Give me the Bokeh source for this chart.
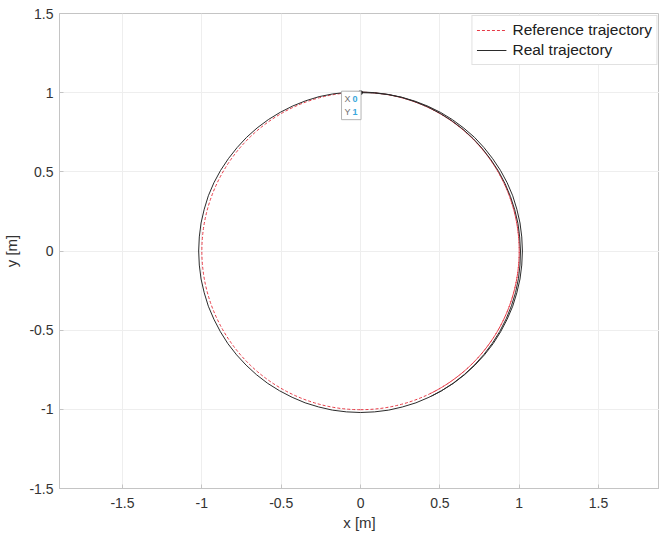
import math
from bokeh.plotting import figure
from bokeh.models import Range1d, Label, Legend, LegendItem, FixedTicker
from bokeh.embed import file_html
from bokeh.resources import INLINE

# Reference trajectory: unit circle around the origin, traced from 90 deg clockwise
# one full lap plus an extra part that ends near -64 deg (drawn as arcs)
ref_center_x = [0.0, 0.0, 0.0]
ref_center_y = [0.0, 0.0, 0.0]
ref_radius = [1.0, 1.0, 1.0]
ref_start_deg = [90.0, -90.0, -64.0]
ref_end_deg = [270.0, 90.0, 90.0]

# Real trajectory (measured)
real_x = [0.0, 0.087, 0.174, 0.260, 0.344, 0.426, 0.505, 0.580, 0.651, 0.718,
          0.778, 0.833, 0.882, 0.924, 0.959, 0.985, 1.005, 1.016, 1.020,
          1.016, 1.005, 0.985, 0.959, 0.924, 0.883, 0.836, 0.781, 0.721,
          0.656, 0.585, 0.510, 0.431, 0.349, 0.264, 0.177, 0.089, 0.0,
          -0.089, -0.177, -0.264, -0.349, -0.431, -0.510, -0.585, -0.656, -0.721,
          -0.781, -0.836, -0.883, -0.924, -0.959, -0.985, -1.005, -1.016, -1.020,
          -1.016, -1.005, -0.985, -0.959, -0.924, -0.882, -0.833, -0.778, -0.718,
          -0.652, -0.581, -0.506, -0.427, -0.345, -0.261, -0.175, -0.088, 0.0,
          0.088, 0.174, 0.260, 0.343, 0.424, 0.502, 0.576, 0.645, 0.710,
          0.769, 0.822, 0.870, 0.911, 0.945, 0.972, 0.992, 1.003, 1.008,
          1.005, 0.995, 0.977, 0.951, 0.918, 0.878, 0.831, 0.778, 0.719,
          0.654, 0.584, 0.510, 0.447]
real_y = [1.000, 0.998, 0.988, 0.971, 0.946, 0.914, 0.875, 0.829, 0.776, 0.718,
          0.653, 0.583, 0.509, 0.431, 0.349, 0.264, 0.177, 0.089, 0.0,
          -0.089, -0.177, -0.264, -0.349, -0.431, -0.510, -0.585, -0.656, -0.721,
          -0.781, -0.836, -0.883, -0.924, -0.959, -0.985, -1.005, -1.016, -1.020,
          -1.016, -1.005, -0.985, -0.959, -0.924, -0.883, -0.836, -0.781, -0.721,
          -0.656, -0.585, -0.510, -0.431, -0.349, -0.264, -0.177, -0.089, 0.0,
          0.089, 0.177, 0.264, 0.349, 0.431, 0.509, 0.583, 0.653, 0.718,
          0.777, 0.830, 0.876, 0.916, 0.949, 0.975, 0.992, 1.002, 1.005,
          1.000, 0.989, 0.970, 0.943, 0.910, 0.869, 0.822, 0.769, 0.710,
          0.645, 0.576, 0.503, 0.425, 0.344, 0.260, 0.175, 0.088, 0.0,
          -0.088, -0.175, -0.262, -0.346, -0.428, -0.507, -0.582, -0.653, -0.719,
          -0.780, -0.835, -0.883, -0.917]

tip_x = [0.0]
tip_y = [1.0]
tip_text_labels = "X\nY"
tip_text_values = "0\n1"

x_ticks = [-1.5, -1, -0.5, 0, 0.5, 1, 1.5]
y_ticks = [-1.5, -1, -0.5, 0, 0.5, 1, 1.5]
x_tick_labels = {-1.5: "-1.5", -1: "-1", -0.5: "-0.5", 0: "0", 0.5: "0.5", 1: "1", 1.5: "1.5"}
y_tick_labels = {-1.5: "-1.5", -1: "-1", -0.5: "-0.5", 0: "0", 0.5: "0.5", 1: "1", 1.5: "1.5"}

FONT = "Liberation Sans"

p = figure(width=659, height=538, output_backend="svg", toolbar_location=None,
           x_range=Range1d(-1.897, 1.884), y_range=Range1d(-1.5, 1.5),
           min_border_left=59, min_border_right=0, min_border_top=13, min_border_bottom=50)

p.background_fill_color = "white"
p.border_fill_color = "white"
p.outline_line_color = "#c4c4c4"
p.outline_line_width = 1

for ax in (p.xaxis[0], p.yaxis[0]):
    ax.axis_line_color = "#c4c4c4"
    ax.major_tick_line_color = "#c4c4c4"
    ax.major_tick_in = 4
    ax.major_tick_out = 0
    ax.minor_tick_line_color = None
    ax.major_label_text_font = FONT
    ax.major_label_text_font_size = "14px"
    ax.major_label_text_color = "#333333"
    ax.axis_label_text_font = FONT
    ax.axis_label_text_font_size = "15px"
    ax.axis_label_text_font_style = "normal"
    ax.axis_label_text_color = "#333333"

p.xaxis.ticker = FixedTicker(ticks=x_ticks)
p.yaxis.ticker = FixedTicker(ticks=y_ticks)
p.xaxis.major_label_overrides = x_tick_labels
p.yaxis.major_label_overrides = y_tick_labels
p.xaxis.axis_label = "x [m]"
p.yaxis.axis_label = "y [m]"
p.xaxis.major_label_standoff = 9
p.yaxis.major_label_standoff = 6
p.xaxis.axis_label_standoff = 3
p.yaxis.axis_label_standoff = 6

p.grid.grid_line_color = "#eeeeee"
p.grid.grid_line_width = 1
p.xgrid.ticker = FixedTicker(ticks=x_ticks)
p.ygrid.ticker = FixedTicker(ticks=y_ticks)

r_ref = p.arc(x=ref_center_x, y=ref_center_y, radius=ref_radius,
              start_angle=[math.radians(a) for a in ref_start_deg],
              end_angle=[math.radians(a) for a in ref_end_deg],
              line_color="#e63a46", line_width=1.0, line_dash="3 2")
r_real = p.line(real_x, real_y, line_color="#2b2b2b", line_width=1.0)

p.scatter(tip_x, tip_y, size=3, marker="square", color="black")

# data tip: box with gray labels, then blue values (same padding so rows align)
p.add_layout(Label(x=tip_x[0], y=tip_y[0], x_units="data", y_units="data",
                   x_offset=-19, y_offset=-27, text=tip_text_labels + "   ",
                   text_font=FONT, text_font_size="9px", text_color="#707070",
                   text_line_height=1.25,
                   background_fill_color="white", border_line_color="#b4b4b4",
                   padding=3))
p.add_layout(Label(x=tip_x[0], y=tip_y[0], x_units="data", y_units="data",
                   x_offset=-11, y_offset=-27, text=tip_text_values,
                   text_font=FONT, text_font_size="9px", text_font_style="bold",
                   text_color="#3aa8dc", text_line_height=1.25,
                   padding=3))

legend = Legend(items=[LegendItem(label="Reference trajectory", renderers=[r_ref]),
                       LegendItem(label="Real trajectory", renderers=[r_real])],
                location="top_right")
legend.label_text_font = FONT
legend.label_text_font_size = "15.5px"
legend.label_text_color = "#202020"
legend.border_line_color = "#c4c4c4"
legend.border_line_width = 1
legend.background_fill_color = "white"
legend.margin = 2
legend.padding = 4
legend.spacing = 0
legend.label_height = 20
legend.glyph_height = 20
legend.glyph_width = 30
legend.label_standoff = 6
p.add_layout(legend)

open("out.html", "w").write(file_html(p, INLINE))
